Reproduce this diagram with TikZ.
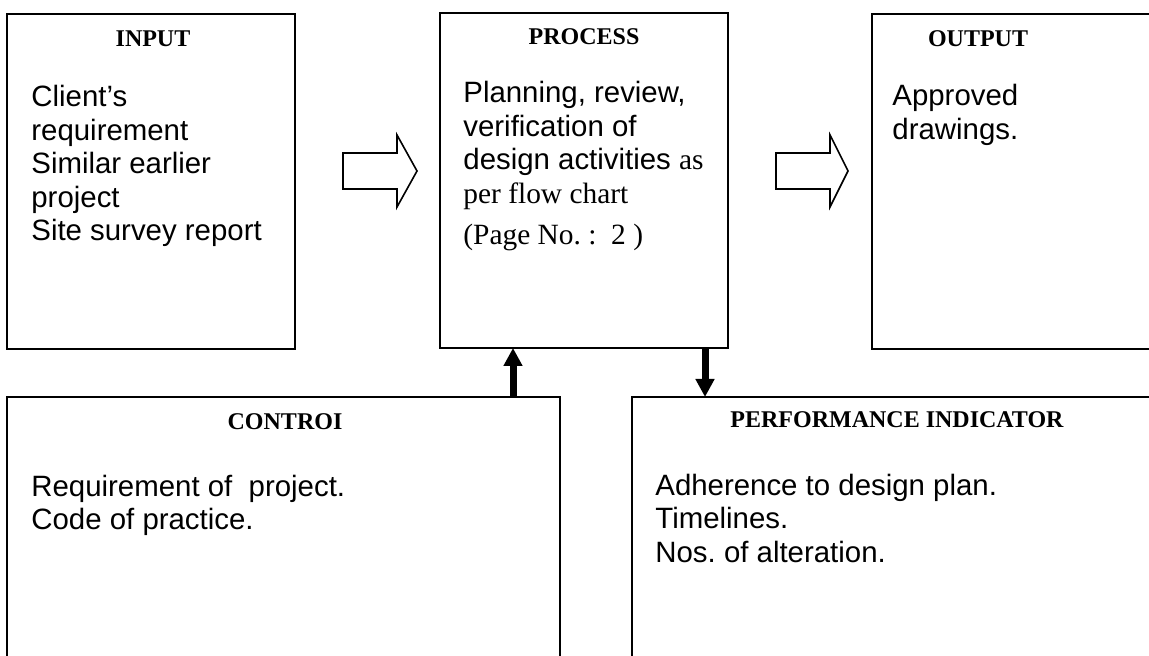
\documentclass[tikz,border=0pt]{standalone}
\usepackage{fontspec}
\setmainfont{Liberation Serif}
\setsansfont{Liberation Sans}
\usetikzlibrary{arrows.meta}
\frenchspacing
\newcommand{\linestack}[1]{\vtop{\halign{##\hfil\cr#1\crcr}}}
\tikzset{
  box/.style={draw, line width=1pt, rectangle, inner sep=0pt, outer sep=0pt, anchor=north west},
  heading/.style={anchor=base, inner sep=0pt, font=\fontsize{12pt}{14pt}\selectfont\rmfamily\bfseries},
  body/.style={anchor=base west, inner sep=0pt, font=\fontsize{14.7pt}{16.75pt}\selectfont\sffamily\frenchspacing},
  conn/.style={line width=3.5pt, -{Triangle[width=9pt,length=9pt]}},
  blockarrow/.style={draw, line width=0.8pt, fill=white, line join=miter}
}
\begin{document}
\begin{tikzpicture}[x=0.5pt, y=-0.5pt]
\useasboundingbox (0,0) rectangle (1149,656);
\clip (0,0) rectangle (1149,656);
% boxes
\node[box, minimum width=144pt, minimum height=167.5pt] (input) at (7,14) {};
\node[box, minimum width=144pt, minimum height=167.5pt] (process) at (440,13) {};
\node[box, minimum width=170pt, minimum height=167.5pt] (output) at (872,14) {};
\node[box, minimum width=276.5pt, minimum height=160pt] (control) at (7,397) {};
\node[box, minimum width=290pt, minimum height=160pt] (perf) at (632,397) {};
% headings
\node[heading] (hin) at (153,47) {INPUT};
\node[heading] (hpr) at (584,45) {PROCESS};
\node[heading] (hout) at (978,47) {OUTPUT};
\node[heading] (hctl) at (285,430) {CONTROI};
\node[heading] (hperf) at (897,428) {PERFORMANCE INDICATOR};
% body texts
\node[body] (tin) at (31,107) {\linestack{Client’s\cr requirement\cr Similar earlier\cr project\cr Site survey report}};
\node[body] (tpr) at (463,103) {\linestack{Planning, review,\cr verification of\cr design activities {\rmfamily as}\cr {\rmfamily per flow chart}\cr\noalign{\vskip4pt}{\rmfamily (Page No. :\ \ 2 )}}};
\node[body] (tout) at (892,106) {\linestack{Approved\cr drawings.}};
\node[body] (tctl) at (31,496) {\linestack{Requirement of\ \ project.\cr Code of practice.}};
\node[body] (tperf) at (655,495) {\linestack{Adherence to design plan.\cr Timelines.\cr Nos. of alteration.}};
% block arrows
\draw[blockarrow] (343,153) -- (397,153) -- (397,135) -- (417,171) -- (397,207) -- (397,189) -- (343,189) -- cycle;
\draw[blockarrow] (776,153) -- (830,153) -- (830,135) -- (848,171) -- (830,207) -- (830,189) -- (776,189) -- cycle;
% connectors
\coordinate (upx) at (513,0);
\coordinate (downx) at (705,0);
\draw[conn] (control.north -| upx) -- (process.south -| upx);
\draw[conn] (process.south -| downx) -- (perf.north -| downx);
\end{tikzpicture}
\end{document}
